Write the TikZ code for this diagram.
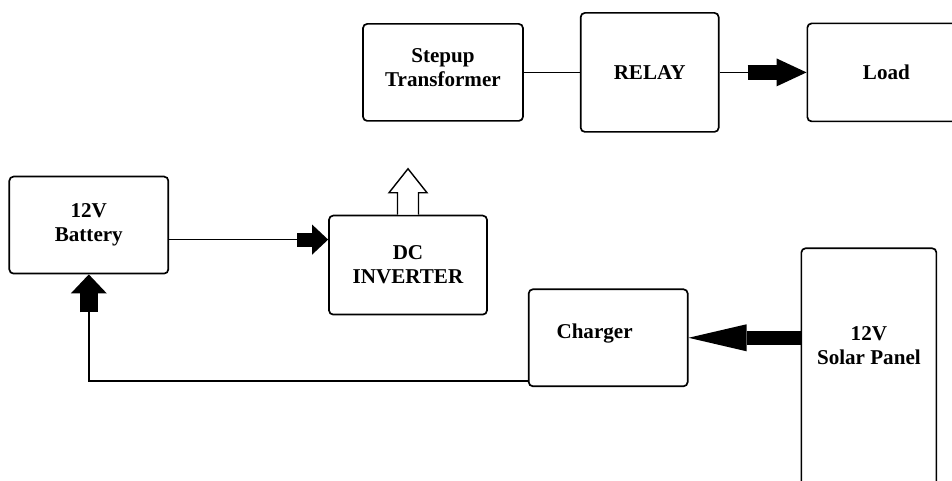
\documentclass[tikz,border=0pt]{standalone}
\usepackage{fontspec}
\setmainfont{Liberation Serif}
\usetikzlibrary{arrows.meta, positioning}

\begin{document}
\begin{tikzpicture}[
        txt/.style={font=\fontsize{15}{17}\selectfont\bfseries, align=center},
        box/.style={rectangle, draw, line width=1.2pt, rounded corners=3pt,
                    txt, inner sep=0pt},
        wire/.style={line width=1pt},
        fat/.style n args={3}{line width=#1,
                    -{Triangle[length=#2, width=#3, line width=0pt]}},
        hollow/.style={draw, line width=1pt, fill=white, line join=miter}
    ]
    \useasboundingbox (0,0) rectangle (23.8,-12);

    \node[box, minimum width=4cm, minimum height=2.425cm] (stepup) at (11.075,-1.81) {Stepup\\Transformer\vphantom{g}\\[-0.35cm]};
    \node[box, minimum width=3.45cm, minimum height=2.975cm, right=1.4cm of stepup] (relay) {RELAY};
    \node[box, minimum width=3.95cm, minimum height=2.45cm, right=2.175cm of relay] (load) {Load};
    \node[box, minimum width=3.95cm, minimum height=2.475cm, below=2.325cm of stepup, xshift=-0.875cm] (inv) {DC\\INVERTER};
    \node[box, minimum width=3.975cm, minimum height=2.425cm, left=3.975cm of inv, yshift=1cm] (bat) {12V\\Battery};
    \node[box, minimum width=3.975cm, minimum height=2.425cm, below right=-0.675cm and 1cm of inv,
          label={[txt, xshift=-0.34cm, yshift=0.11cm]center:Charger}] (charger) {};
    \node[box, minimum width=3.375cm, minimum height=6.4cm, right=2.8cm of charger.north east,
          anchor=north west, yshift=1.025cm,
          label={[txt, yshift=0.76cm]center:12V\\Solar Panel}] (solar) {};

    \coordinate[left=1.475cm of load.west] (loadin);
    \coordinate (invin) at ([xshift=-0.775cm, yshift=0.6375cm]inv.west);
    \coordinate[below=0.95cm of bat] (batin);

    \draw[wire] (stepup.east) -- (relay.west |- stepup.east);
    \draw[wire] (relay.east) -- (loadin);
    \draw[fat={0.375cm}{0.75cm}{0.7cm}] (loadin) -- (load.west);
    \draw[wire] (bat.east |- invin) -- (invin);
    \draw[fat={0.35cm}{0.4cm}{0.75cm}] (invin) -- (inv.west |- invin);
    \draw[fat={0.35cm}{1.45cm}{0.675cm}] (solar.west |- charger.east) -- (charger.east);
    \draw[wire] ([yshift=0.15cm]charger.south west) -| (batin);
    \draw[fat={0.45cm}{0.475cm}{0.9cm}] (batin) -- (bat.south);

    % output of the inverter
    \draw[hollow] ([xshift=-0.2625cm]inv.north) -- ++(0,0.55) -- ++(-0.2125,0)
        -- ++(0.475,0.6) -- ++(0.475,-0.6) -- ++(-0.2125,0) -- ([xshift=0.2625cm]inv.north);
\end{tikzpicture}
\end{document}
